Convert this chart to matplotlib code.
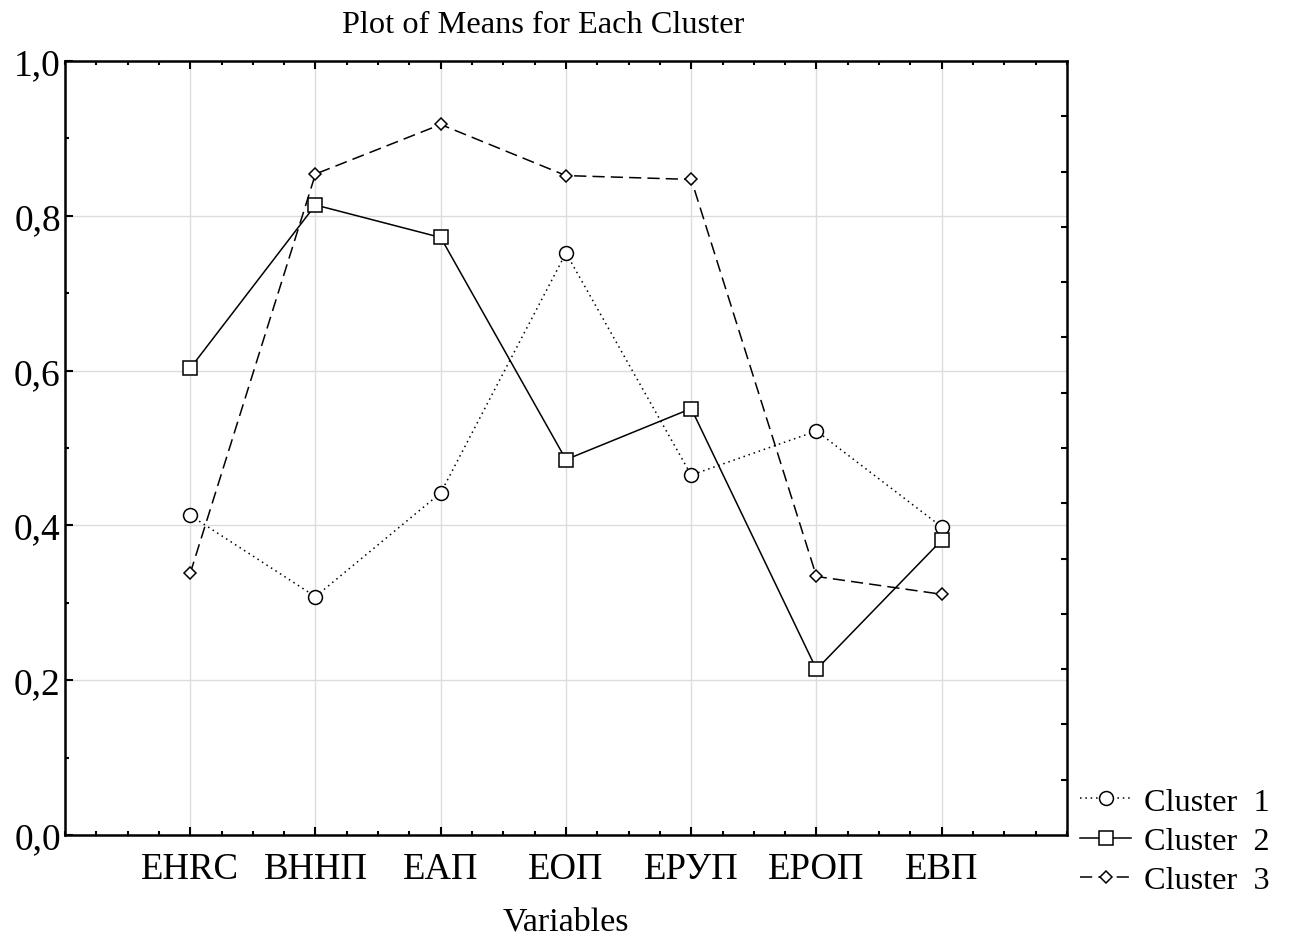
import numpy as np
import matplotlib
matplotlib.use("Agg")
from matplotlib import pyplot as plt
from matplotlib.ticker import MultipleLocator, FixedLocator

plt.rcParams['font.family'] = ['Liberation Serif', 'DejaVu Serif']

# dados
variaveis = ['EHRC', 'BHHП', 'EAП', 'EOП', 'EРУП', 'EРОП', 'EBП']
cluster_1 = [0.413, 0.308, 0.442, 0.752, 0.465, 0.522, 0.398]
cluster_2 = [0.603, 0.814, 0.772, 0.485, 0.551, 0.214, 0.381]
cluster_3 = [0.338, 0.854, 0.918, 0.852, 0.847, 0.334, 0.311]
nomes = ['Cluster  1', 'Cluster  2', 'Cluster  3']

fig = plt.figure(figsize=(12.91, 9.37), dpi=100)
ax = fig.add_axes([0.0503, 0.1078, 0.7762, 0.826])

x = np.arange(len(variaveis))
ax.plot(x, cluster_1, color='black', linestyle=(0, (1, 2.5)), linewidth=1.1,
        marker='o', markersize=10, markerfacecolor='white', markeredgewidth=1.1,
        label=nomes[0], zorder=3)
ax.plot(x, cluster_2, color='black', linestyle='-', linewidth=1.1,
        marker='s', markersize=10, markerfacecolor='white', markeredgewidth=1.1,
        label=nomes[1], zorder=3)
ax.plot(x, cluster_3, color='black', linestyle=(0, (8, 4)), linewidth=1.1,
        marker='D', markersize=6.5, markerfacecolor='white', markeredgewidth=1.1,
        label=nomes[2], zorder=3)

ax.set_xlim(-1, 7)
ax.set_ylim(0, 1.0)
ax.set_xticks(x)
ax.set_xticklabels(variaveis)
ax.xaxis.set_minor_locator(MultipleLocator(0.25))
ax.yaxis.set_major_locator(MultipleLocator(0.2))
ax.yaxis.set_minor_locator(MultipleLocator(0.1))
ax.yaxis.set_major_formatter(lambda v, p: f'{v:.1f}'.replace('.', ','))

ax.grid(True, which='major', color='#dcdcdc', linewidth=1)
ax.set_axisbelow(True)
ax.tick_params(which='both', direction='in', top=True, right=False, width=1.5)
ax.tick_params(which='major', length=6)
ax.tick_params(which='minor', length=3)
ax.tick_params(axis='y', labelsize=27, pad=3)
ax.tick_params(axis='x', labelsize=26.5, pad=12)
for s in ax.spines.values():
    s.set_linewidth(1.8)

# marcas do lado direito (espacamento diferente)
ax_dir = ax.twinx()
ax_dir.set_ylim(0, 1.0)
ax_dir.yaxis.set_major_locator(FixedLocator(np.arange(1, 14) / 14))
ax_dir.tick_params(direction='in', length=4, width=1.5, labelright=False)
for s in ax_dir.spines.values():
    s.set_visible(False)

ax.set_xlabel('Variables', fontsize=24.5, labelpad=14)
fig.text(0.4205, 0.973, 'Plot of Means for Each Cluster', fontsize=23.3,
         ha='center', va='center')

h, l = ax.get_legend_handles_labels()
fig.legend(h, l, loc='lower left', bbox_to_anchor=(0.8265, 0.03),
           frameon=False, fontsize=23.2, handlelength=1.6, handletextpad=0.4,
           labelspacing=0.3, borderaxespad=0)

fig.savefig('out.png', dpi=100)
